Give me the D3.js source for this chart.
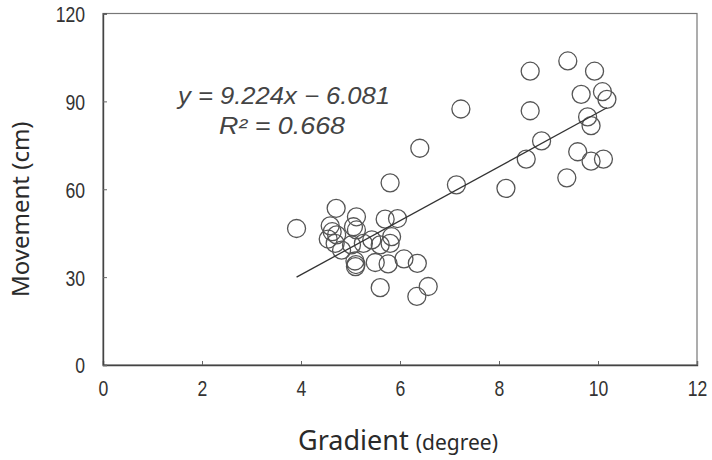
<!DOCTYPE html>
<html lang="en">
<head>
<meta charset="UTF-8">
<title>Movement vs Gradient</title>
<script src="https://d3js.org/d3.v7.min.js"></script>
<style>
  body { margin: 0; background: #fff; }
  .tick-label { font-family: "Liberation Sans", Arial, sans-serif; font-size: 22px; fill: #333; }
  .axis-title { font-family: "Noto Sans", "Open Sans", sans-serif; fill: #2a2a2a; }
  .eq { font-family: "Liberation Sans", Arial, sans-serif; font-style: italic; font-size: 23px; fill: #444; }
</style>
</head>
<body>
<div id="chart"></div>
<script>
// gradient (degree) of each site
const gradient = [3.91, 4.59, 4.71, 4.55, 4.72, 4.69, 4.82, 5.12, 5.06, 5.12,
                  5.26, 5.43, 5.70, 5.95, 5.83, 5.80, 5.60, 5.09, 5.11, 5.10,
                  5.50, 5.76, 6.08, 6.35, 5.60, 6.34, 6.57, 5.80, 6.40, 7.14,
                  7.23, 8.14, 8.55, 8.63, 8.63, 8.86, 9.37, 9.39, 9.59, 9.66,
                  9.79, 9.86, 9.86, 9.93, 10.09, 10.11, 10.18, 5.02, 4.63];
// movement (cm)
const movement = [46.6, 47.5, 53.5, 43.0, 44.4, 41.5, 39.2, 50.6, 47.2, 46.1,
                  41.5, 42.7, 49.8, 50.0, 43.8, 41.5, 41.0, 35.5, 34.3, 33.6,
                  35.0, 34.5, 36.2, 34.7, 26.4, 23.4, 26.8, 62.2, 74.0, 61.5,
                  87.4, 60.3, 70.3, 100.3, 86.8, 76.5, 63.9, 103.8, 72.8, 92.4,
                  84.7, 81.7, 69.6, 100.3, 93.3, 70.3, 90.7, 41.0, 45.5];
const xTicks = [0, 2, 4, 6, 8, 10, 12];
const yTicks = [0, 30, 60, 90, 120];
const slope = 9.224, intercept = -6.081, r2 = 0.668;

const width = 712, height = 460;
const margin = { top: 13.5, right: 15, bottom: 95, left: 103 };
const squeeze = 0.8; // narrow tick digits

const svg = d3.select("#chart").append("svg")
    .attr("width", width)
    .attr("height", height);

const x = d3.scaleLinear().domain([0, 12]).range([margin.left, width - margin.right]);
const y = d3.scaleLinear().domain([0, 120]).range([height - margin.bottom, margin.top]);

// frame
svg.append("rect")
    .attr("x", x(0)).attr("y", y(120))
    .attr("width", x(12) - x(0)).attr("height", y(0) - y(120))
    .attr("fill", "none").attr("stroke", "#777").attr("stroke-width", 1.2);

// axes (ticks pointing inside)
const xAxis = svg.append("g")
    .attr("transform", `translate(0,${y(0)})`)
    .call(d3.axisBottom(x).tickValues(xTicks).tickSize(-4).tickPadding(15));
const yAxis = svg.append("g")
    .attr("transform", `translate(${x(0)},0)`)
    .call(d3.axisLeft(y).tickValues(yTicks).tickSize(-4).tickPadding(18));

[xAxis, yAxis].forEach(g => {
    g.select(".domain").attr("stroke", "#444").attr("stroke-width", 1.4);
    g.selectAll(".tick line").attr("stroke", "#666");
    g.selectAll(".tick text").attr("class", "tick-label").attr("font-size", null).attr("font-family", null)
        .attr("transform", `scale(${squeeze},1)`);
});
xAxis.selectAll(".tick text").attr("dy", "0.71em");
yAxis.selectAll(".tick text").attr("dy", "0.36em").attr("x", -18 / squeeze);

// points
const pts = gradient.map((g, i) => ({ g: g, m: movement[i] }));
svg.append("g").selectAll("circle")
    .data(pts)
    .enter().append("circle")
    .attr("cx", d => x(d.g))
    .attr("cy", d => y(d.m))
    .attr("r", 9)
    .attr("fill", "none")
    .attr("stroke", "#555")
    .attr("stroke-width", 1.3);

// trend line over the data range
const gMin = d3.min(gradient), gMax = d3.max(gradient);
svg.append("line")
    .attr("x1", x(gMin)).attr("y1", y(slope * gMin + intercept))
    .attr("x2", x(gMax)).attr("y2", y(slope * gMax + intercept))
    .attr("stroke", "#333").attr("stroke-width", 1.3);

// equation
svg.append("text").attr("class", "eq")
    .attr("x", 284).attr("y", 104).attr("text-anchor", "middle")
    .attr("textLength", 212).attr("lengthAdjust", "spacingAndGlyphs")
    .text(`y = ${slope}x − ${Math.abs(intercept)}`);
svg.append("text").attr("class", "eq")
    .attr("x", 282).attr("y", 134).attr("text-anchor", "middle")
    .attr("textLength", 126).attr("lengthAdjust", "spacingAndGlyphs")
    .text(`R² = ${r2}`);

// axis titles
svg.append("text").attr("class", "axis-title")
    .attr("transform", `translate(29,${(y(0) + y(120)) / 2 + 20}) rotate(-90)`)
    .attr("text-anchor", "middle")
    .attr("font-size", 24)
    .text("Movement (cm)");

const xt = svg.append("text").attr("class", "axis-title")
    .attr("x", 398).attr("y", 450).attr("text-anchor", "middle");
xt.append("tspan").attr("font-size", 27).text("Gradient ");
xt.append("tspan").attr("font-size", 21).text("(degree)");
</script>
</body>
</html>
